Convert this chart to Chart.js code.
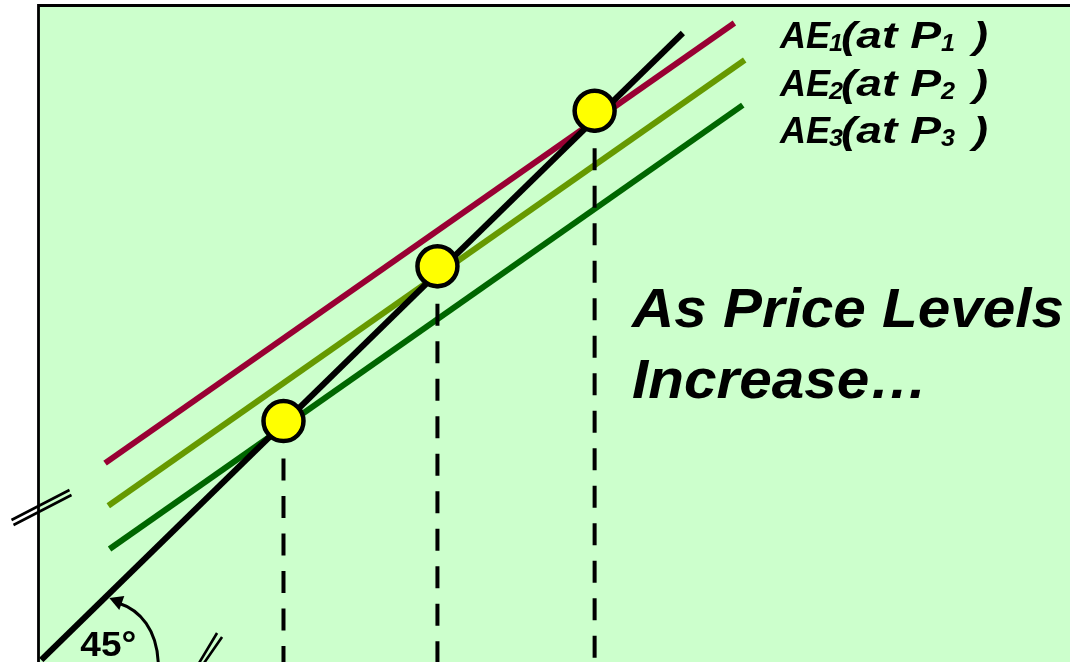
<!DOCTYPE html>
<html>
<head>
<meta charset="utf-8">
<script src="https://cdn.jsdelivr.net/npm/chart.js@4.4.1/dist/chart.umd.min.js"></script>
<style>
  html, body { margin: 0; padding: 0; background: #ffffff; }
  #wrap { width: 1070px; height: 662px; position: relative; }
</style>
</head>
<body>
<div id="wrap"><canvas id="c"></canvas></div>
<script>
// 45-degree line: AE = Y
const diagonalX = [0, 99.6];
const diagonalY = [0, 100];
// Aggregate expenditure lines at three price levels
const ae1X = [9.9, 107.6];
const ae1Y = [31.4, 101.6];
const ae2X = [10.4, 109.2];
const ae2Y = [24.6, 95.7];
const ae3X = [10.6, 108.9];
const ae3Y = [17.7, 88.5];
// Equilibria where each AE line meets the 45-degree line
const equilibriumX = [85.9, 61.5, 37.6];
const equilibriumY = [87.6, 62.8, 38.1];
// Text
const aeSubscripts = ['1', '2', '3'];
const captionLines = ['As Price Levels', 'Increase\u2026'];
const angleLabel = '45\u00B0';
// Axis breaks (value along the broken axis)
const yBreakAt = 24.4;
const xBreakAt = 26.2;

const FONT = '"Liberation Sans", Arial, Helvetica, sans-serif';

function pts(xs, ys) { return xs.map((x, i) => ({ x: x, y: ys[i] })); }

const dropLines = equilibriumX.map((x, i) => ({
  data: [{ x: x, y: equilibriumY[i] }, { x: x, y: -1 }],
  showLine: true, borderColor: '#000000', borderWidth: 4,
  borderDash: [22, 15.5], pointRadius: 0, order: 1, clip: false
}));

// draw text squeezed/stretched horizontally to a given width
function fitText(ctx, text, x, y, width) {
  const w = ctx.measureText(text).width;
  ctx.save();
  ctx.translate(x, y);
  ctx.scale(width / w, 1);
  ctx.fillText(text, 0, 0);
  ctx.restore();
}

const decorations = {
  id: 'decorations',
  beforeDraw(chart) {
    const { ctx, chartArea: a } = chart;
    ctx.save();
    ctx.fillStyle = '#CCFFCC';
    ctx.fillRect(a.left - 2, a.top - 2, a.right - a.left + 2, a.bottom - a.top + 2);
    ctx.restore();
  },
  afterDatasetsDraw(chart) {
    const { ctx, chartArea: a, scales: { x, y } } = chart;
    ctx.save();
    // axes frame
    ctx.strokeStyle = '#000000';
    ctx.lineWidth = 2.8;
    ctx.beginPath();
    ctx.moveTo(a.left - 1.5, a.bottom + 2);
    ctx.lineTo(a.left - 1.5, a.top - 1.5);
    ctx.lineTo(a.right + 2, a.top - 1.5);
    ctx.stroke();

    // axis break on the vertical axis
    const by = y.getPixelForValue(yBreakAt);
    const bx = a.left - 1.5;
    ctx.lineWidth = 2.6;
    ctx.beginPath();
    ctx.moveTo(bx - 27, by + 13); ctx.lineTo(bx + 31, by - 17);
    ctx.moveTo(bx - 25, by + 18); ctx.lineTo(bx + 33, by - 12);
    ctx.stroke();

    // axis break near the horizontal axis
    const hx = x.getPixelForValue(xBreakAt);
    const hy = a.bottom;
    ctx.beginPath();
    ctx.moveTo(hx - 11, hy + 1); ctx.lineTo(hx + 7, hy - 29);
    ctx.moveTo(hx - 6, hy + 1); ctx.lineTo(hx + 12, hy - 25);
    ctx.stroke();

    // angle arc with arrowhead
    const ox = x.getPixelForValue(0), oy = y.getPixelForValue(0);
    ctx.lineWidth = 3;
    ctx.beginPath();
    ctx.moveTo(ox + 77, oy - 57);
    ctx.bezierCurveTo(ox + 99, oy - 50, ox + 116, oy - 30, ox + 117, oy + 4);
    ctx.stroke();
    ctx.fillStyle = '#000000';
    ctx.beginPath();
    ctx.moveTo(ox + 68, oy - 62);
    ctx.lineTo(ox + 83, oy - 64);
    ctx.lineTo(ox + 78, oy - 50);
    ctx.closePath();
    ctx.fill();

    ctx.textBaseline = 'alphabetic';
    ctx.font = 'bold 35px ' + FONT;
    fitText(ctx, angleLabel, ox + 39, oy - 4, 56);

    // AE labels with subscripts
    const baselines = [48, 96, 143];
    const big = 'italic bold 36px ' + FONT;
    const small = 'italic bold 23px ' + FONT;
    aeSubscripts.forEach((s, i) => {
      const ty = baselines[i];
      ctx.font = big;
      fitText(ctx, 'AE', 780, ty, 50);
      ctx.font = small;
      fitText(ctx, s, 829, ty + 3, 14);
      ctx.font = big;
      fitText(ctx, '(at P', 841, ty, 100);
      ctx.font = small;
      fitText(ctx, s, 941, ty + 3, 14);
      ctx.font = big;
      fitText(ctx, ')', 973, ty, 15);
    });

    // caption
    ctx.font = 'italic bold 56px ' + FONT;
    fitText(ctx, captionLines[0], 632, 327, 432);
    const w2 = ctx.measureText(captionLines[1]).width * 432 / ctx.measureText(captionLines[0]).width;
    fitText(ctx, captionLines[1], 632, 398, w2);
    ctx.restore();
  }
};

new Chart(document.getElementById('c'), {
  type: 'scatter',
  data: {
    datasets: [
      { data: pts(equilibriumX, equilibriumY), pointRadius: 20, pointHoverRadius: 20,
        pointBackgroundColor: '#FFFF00', pointBorderColor: '#000000', pointBorderWidth: 4.5,
        showLine: false, order: 0, clip: false },
      ...dropLines,
      { data: pts(diagonalX, diagonalY), showLine: true, borderColor: '#000000',
        borderWidth: 6, pointRadius: 0, order: 2, clip: false },
      { data: pts(ae1X, ae1Y), showLine: true, borderColor: '#990033',
        borderWidth: 6, pointRadius: 0, order: 3 },
      { data: pts(ae2X, ae2Y), showLine: true, borderColor: '#669900',
        borderWidth: 6, pointRadius: 0, order: 4 },
      { data: pts(ae3X, ae3Y), showLine: true, borderColor: '#006600',
        borderWidth: 6, pointRadius: 0, order: 5 }
    ]
  },
  options: {
    responsive: true,
    maintainAspectRatio: false,
    animation: false,
    layout: { autoPadding: false, padding: { left: 40, top: 7, right: 0, bottom: 0 } },
    plugins: { legend: { display: false }, tooltip: { enabled: false } },
    events: [],
    scales: {
      x: { type: 'linear', display: false, min: -0.2, max: 159.7 },
      y: { type: 'linear', display: false, min: -0.32, max: 104.15 }
    }
  },
  plugins: [decorations]
});
</script>
</body>
</html>
